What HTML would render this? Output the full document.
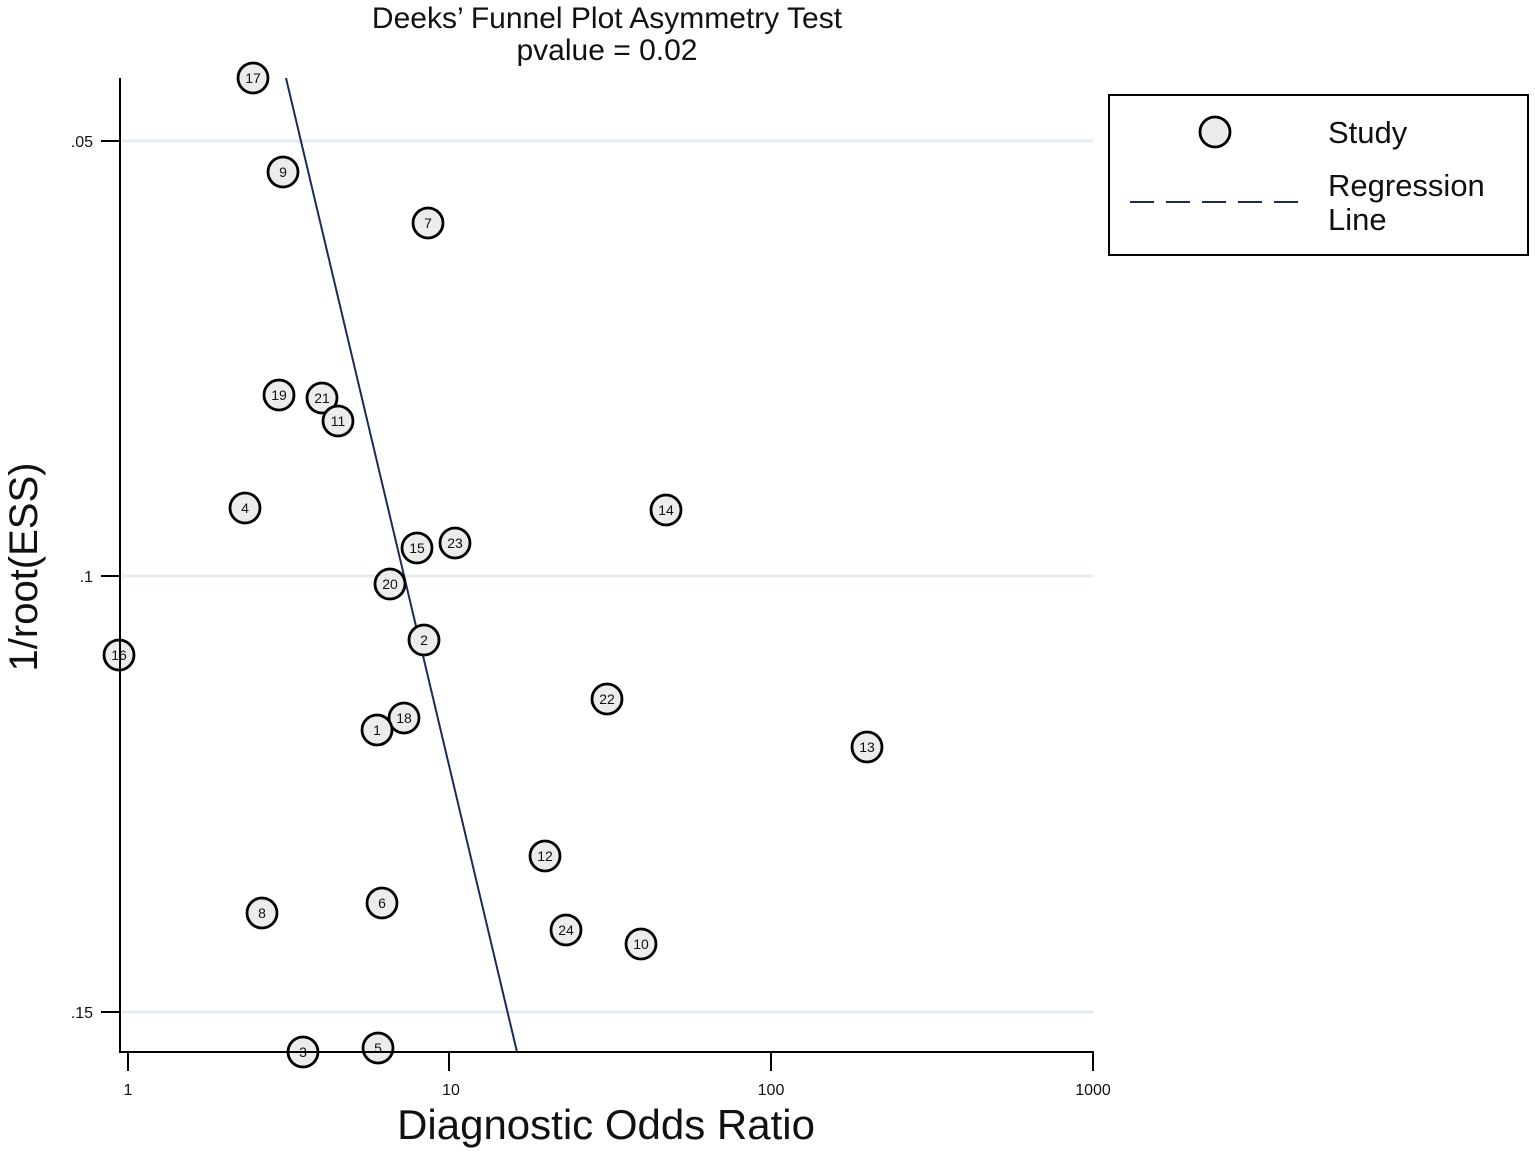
<!DOCTYPE html>
<html><head><meta charset="utf-8"><style>
html,body{margin:0;padding:0;background:#fff}
svg{display:block}
text{font-family:"Liberation Sans",sans-serif;fill:#111}
</style></head><body>
<svg width="1535" height="1153" viewBox="0 0 1535 1153" xmlns="http://www.w3.org/2000/svg">
<g stroke="#e4ecf0" stroke-width="3">
<line x1="122" y1="141" x2="1093" y2="141"/>
<line x1="122" y1="576" x2="1093" y2="576"/>
<line x1="122" y1="1012" x2="1093" y2="1012"/>
</g>
<line x1="286" y1="78" x2="517" y2="1052" stroke="#1c2a5c" stroke-width="2"/>
<g stroke="#000" stroke-width="2.8" fill="#ececec">
<circle cx="253" cy="78" r="15"/><circle cx="283" cy="172" r="15"/><circle cx="428" cy="223" r="15"/>
<circle cx="279" cy="395" r="15"/><circle cx="322" cy="398" r="15"/><circle cx="338" cy="421" r="15"/>
<circle cx="245" cy="508" r="15"/><circle cx="666" cy="510" r="15"/><circle cx="417" cy="548" r="15"/>
<circle cx="455" cy="543" r="15"/><circle cx="390" cy="584" r="15"/><circle cx="424" cy="640" r="15"/>
<circle cx="119" cy="655" r="15"/><circle cx="607" cy="699" r="15"/><circle cx="404" cy="718" r="15"/>
<circle cx="377" cy="730" r="15"/><circle cx="867" cy="747" r="15"/><circle cx="545" cy="856" r="15"/>
<circle cx="382" cy="903" r="15"/><circle cx="262" cy="913" r="15"/><circle cx="566" cy="930" r="15"/>
<circle cx="641" cy="944" r="15"/><circle cx="303" cy="1052" r="15"/><circle cx="378" cy="1048" r="15"/>
</g>
<g font-size="14" text-anchor="middle">
<text x="253" y="83">17</text><text x="283" y="177">9</text><text x="428" y="228">7</text>
<text x="279" y="400">19</text><text x="322" y="403">21</text><text x="338" y="426">11</text>
<text x="245" y="513">4</text><text x="666" y="515">14</text><text x="417" y="553">15</text>
<text x="455" y="548">23</text><text x="390" y="589">20</text><text x="424" y="645">2</text>
<text x="119" y="660">16</text><text x="607" y="704">22</text><text x="404" y="723">18</text>
<text x="377" y="735">1</text><text x="867" y="752">13</text><text x="545" y="861">12</text>
<text x="382" y="908">6</text><text x="262" y="918">8</text><text x="566" y="935">24</text>
<text x="641" y="949">10</text><text x="303" y="1057">3</text><text x="378" y="1053">5</text>
</g>
<g stroke="#000" stroke-width="2">
<line x1="120" y1="78" x2="120" y2="1053"/>
<line x1="119" y1="1052" x2="1094" y2="1052"/>
<line x1="101" y1="141" x2="120" y2="141"/>
<line x1="101" y1="576" x2="120" y2="576"/>
<line x1="101" y1="1012" x2="120" y2="1012"/>
<line x1="128" y1="1052" x2="128" y2="1071"/>
<line x1="449" y1="1052" x2="449" y2="1071"/>
<line x1="771" y1="1052" x2="771" y2="1071"/>
<line x1="1093" y1="1052" x2="1093" y2="1071"/>
</g>
<g font-size="16" text-anchor="end">
<text x="93" y="147">.05</text>
<text x="93" y="582">.1</text>
<text x="93" y="1018">.15</text>
</g>
<g font-size="16" text-anchor="middle">
<text x="128" y="1095">1</text>
<text x="451" y="1095">10</text>
<text x="771" y="1095">100</text>
<text x="1093" y="1095">1000</text>
</g>
<text x="606" y="1139" font-size="42" text-anchor="middle">Diagnostic Odds Ratio</text>
<text transform="translate(37,567) rotate(-90)" font-size="40" text-anchor="middle">1/root(ESS)</text>
<text x="607" y="28" font-size="30" text-anchor="middle">Deeks’ Funnel Plot Asymmetry Test</text>
<text x="607" y="60" font-size="30" text-anchor="middle">pvalue =  0.02</text>
<rect x="1109" y="95" width="419" height="160" fill="#fff" stroke="#000" stroke-width="2"/>
<circle cx="1215" cy="132" r="15" fill="#ececec" stroke="#000" stroke-width="2.8"/>
<text x="1328" y="143" font-size="31">Study</text>
<line x1="1130" y1="202" x2="1300" y2="202" stroke="#1c2a5c" stroke-width="2" stroke-dasharray="24,12"/>
<text x="1328" y="196" font-size="31">Regression</text>
<text x="1328" y="230" font-size="31">Line</text>
</svg>
</body></html>
